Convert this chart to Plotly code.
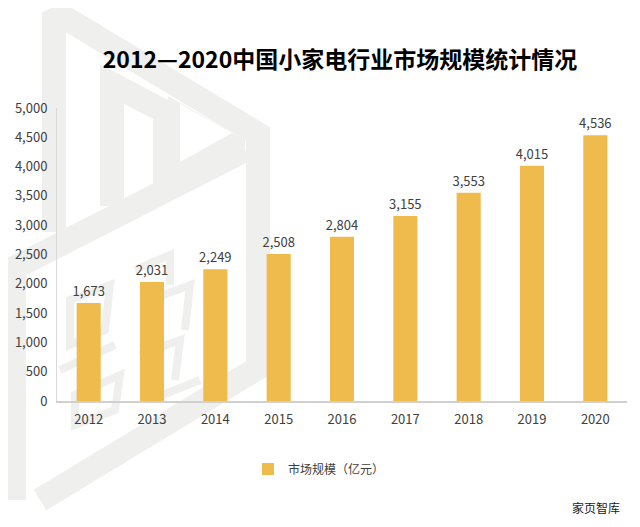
import base64
import plotly.graph_objects as go

years = ["2012", "2013", "2014", "2015", "2016", "2017", "2018", "2019", "2020"]
market_size = [1673, 2031, 2249, 2508, 2804, 3155, 3553, 4015, 4536]
series_name = "市场规模（亿元）"
title_text = "2012—2020中国小家电行业市场规模统计情况"
source_text = "家页智库"

# page body has an 8px margin: the figure is offset by (8, 8) in the window
OFF = 8
W, H = 640 - OFF, 527 - OFF
# reference-space pixel positions of the plot area
X0, X1, Y0, Y1 = 57, 627, 108, 401
ML, MR, MT, MB = X0 - OFF, 640 - X1, Y0 - OFF, 527 - Y1
PW, PH = W - ML - MR, H - MT - MB


def px(x):
    return (x - X0) / PW


def py(y):
    return (Y1 - y) / PH


wm = "#efefed"
svg = f'''<svg xmlns="http://www.w3.org/2000/svg" width="{W}" height="{H}" viewBox="{OFF} {OFF} {W} {H}">
<g fill="none" stroke="{wm}" stroke-width="24" stroke-linejoin="miter">
<polyline points="54,232 54,20 62,16 258,134 258,368 40,500"/>
<polyline points="14,500 14,268 245,150"/>
<polyline points="112,206 112,84 165,112 165,190"/>
</g>
<polygon fill="{wm}" points="168,96 245,140 245,150 168,190"/>
<polygon fill="white" points="180,104 232,133 180,162"/>
<g fill="none" stroke="{wm}" stroke-width="8">
<path d="M70,300 L110,285 L105,330 L70,345 Z M60,370 L115,345 M75,395 L120,375 L115,410 L75,425 Z"/>
<path d="M135,270 L170,255 L170,285 M150,300 L190,285 L185,330 M140,355 L180,340 L175,380 M150,400 L200,380"/>
</g>
</svg>'''
svg_uri = "data:image/svg+xml;base64," + base64.b64encode(svg.encode("utf-8")).decode()

fig = go.Figure()
fig.add_trace(go.Bar(
    x=years, y=market_size, name=series_name,
    marker=dict(color="#EFBB4C", line=dict(width=0)),
    text=market_size, texttemplate="%{y:,}", textposition="outside",
    constraintext="none",
    textfont=dict(size=13, color="#404040", family="Noto Sans CJK SC"),
    cliponaxis=False,
))

fig.update_layout(
    width=W, height=H,
    margin=dict(l=ML, r=MR, t=MT, b=MB, autoexpand=False),
    paper_bgcolor="white", plot_bgcolor="rgba(0,0,0,0)",
    bargap=0.62,
    showlegend=True,
    legend=dict(orientation="h", x=px(248), y=py(469),
                xanchor="left", yanchor="middle", itemwidth=30,
                font=dict(size=12, color="#404040", family="Noto Sans CJK SC"),
                bgcolor="rgba(0,0,0,0)"),
    title=dict(text="<b>" + title_text + "</b>", x=(340 - OFF) / W, xanchor="center",
               y=1 - (60 - OFF) / H, yanchor="middle", yref="container",
               font=dict(size=23, color="#000000", family="Noto Sans CJK SC")),
    xaxis=dict(showgrid=False, showline=True, linecolor="#d0d0d0", linewidth=1.5,
               ticks="", ticklabelstandoff=6,
               tickfont=dict(size=13, color="#404040", family="Noto Sans CJK SC")),
    yaxis=dict(range=[0, 5000], dtick=500, tickformat=",", showgrid=False,
               showline=True, linecolor="#d9d9d9", linewidth=1, zeroline=False,
               ticks="", ticklabelstandoff=6,
               tickfont=dict(size=13, color="#404040", family="Noto Sans CJK SC")),
    images=[dict(source=svg_uri, xref="paper", yref="paper",
                 x=-ML / PW, y=1 + MT / PH, sizex=W / PW, sizey=H / PH,
                 xanchor="left", yanchor="top", sizing="stretch", layer="below")],
    annotations=[dict(text=source_text, xref="paper", yref="paper",
                      x=px(622), y=py(507), xanchor="right",
                      yanchor="middle", showarrow=False,
                      font=dict(size=12, color="#202020", family="Noto Sans CJK SC"))],
)

fig.write_html("out.html")
